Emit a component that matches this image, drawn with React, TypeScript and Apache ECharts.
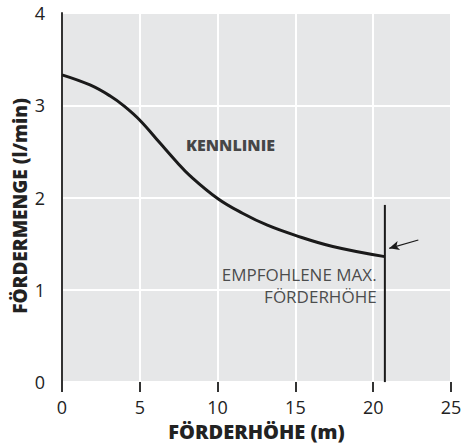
import React, { useEffect, useRef } from "react";
import * as echarts from "echarts";

const xTicks = [0, 5, 10, 15, 20, 25];
const yTicks = [0, 1, 2, 3, 4];
const curveX = [0, 1.8, 3.1, 4.0, 5.05, 6.3, 7.4, 8.2, 10.0, 11.6, 13.2, 15.0, 17.4, 20.75];
const curveY = [3.33, 3.22, 3.1, 2.99, 2.83, 2.59, 2.38, 2.24, 1.99, 1.83, 1.7, 1.59, 1.47, 1.36];
const maxLineX = [20.75, 20.75];
const maxLineY = [0, 1.92];
const arrowFrom = [22.9, 1.54];
const arrowTo = [21.03, 1.45];
const curveLabel = "KENNLINIE";
const curveLabelPos = [10.83, 2.57];
const maxLabelLines = ["EMPFOHLENE MAX.", "FÖRDERHÖHE"];
const maxLabelX = 20.22;
const maxLabelYs = [1.17, 0.925];
const xTitle = "FÖRDERHÖHE (m)";
const yTitle = "FÖRDERMENGE (l/min)";

const FONT = "'Open Sans', 'Noto Sans', sans-serif";

export default function App() {
  const ref = useRef<HTMLDivElement>(null);
  useEffect(() => {
    const chart = echarts.init(ref.current!, null, { renderer: "svg" });
    chart.setOption({
      animation: false,
      textStyle: { fontFamily: FONT },
      grid: {
        left: 62,
        right: 19,
        top: 13,
        bottom: 63,
        show: true,
        backgroundColor: "#e6e7e8",
        borderWidth: 0,
      },
      graphic: [
        {
          type: "text",
          x: 20,
          y: 206,
          rotation: Math.PI / 2,
          style: {
            text: yTitle,
            fontSize: 19,
            fontWeight: 800,
            fill: "#222",
            fontFamily: FONT,
            align: "center",
            verticalAlign: "middle",
          },
        },
      ],
      xAxis: {
        type: "value",
        min: xTicks[0],
        max: xTicks[xTicks.length - 1],
        interval: 5,
        name: xTitle,
        nameLocation: "middle",
        nameGap: 37,
        nameTextStyle: { fontSize: 20, fontWeight: 800, color: "#222", fontFamily: FONT },
        axisLine: { show: false },
        axisTick: { show: true, length: 10, lineStyle: { color: "#333", width: 2 } },
        axisLabel: { fontSize: 18, color: "#222", margin: 16, fontFamily: FONT },
        splitLine: { show: true, lineStyle: { color: "#ffffff", width: 2 } },
      },
      yAxis: {
        type: "value",
        min: yTicks[0],
        max: yTicks[yTicks.length - 1],
        interval: 1,
        axisLine: { show: true, lineStyle: { color: "#333", width: 2 } },
        axisTick: { show: false },
        axisLabel: { fontSize: 18, color: "#222", margin: 17, fontFamily: FONT },
        splitLine: { show: true, lineStyle: { color: "#ffffff", width: 2 } },
      },
      series: [
        {
          type: "line",
          data: curveX.map((x, i) => [x, curveY[i]]),
          smooth: 0.4,
          showSymbol: false,
          lineStyle: { color: "#1a1a1a", width: 3 },
        },
        {
          type: "line",
          data: maxLineX.map((x, i) => [x, maxLineY[i]]),
          showSymbol: false,
          lineStyle: { color: "#1a1a1a", width: 2 },
          markLine: {
            silent: true,
            symbol: ["none", "arrow"],
            symbolSize: [7, 10],
            label: { show: false },
            lineStyle: { color: "#1a1a1a", width: 1.2, type: "solid" },
            data: [[{ coord: arrowFrom }, { coord: arrowTo }]],
          },
        },
        {
          type: "scatter",
          symbolSize: 0,
          data: [{ value: curveLabelPos, name: curveLabel }],
          label: {
            show: true,
            formatter: curveLabel,
            position: "inside",
            fontSize: 16,
            fontWeight: 800,
            color: "#1a1a1a",
            fontFamily: FONT,
          },
        },
        {
          type: "scatter",
          symbolSize: 0,
          data: maxLabelLines.map((t, i) => ({ value: [maxLabelX, maxLabelYs[i]], name: t })),
          label: {
            show: true,
            formatter: (p: any) => p.name,
            position: "inside",
            align: "right",
            fontSize: 17,
            color: "#222",
            fontFamily: FONT,
          },
        },
      ],
    });
    return () => chart.dispose();
  }, []);
  return <div ref={ref} style={{ width: 470, height: 446, position: "absolute", left: 0, top: 0 }} />;
}
